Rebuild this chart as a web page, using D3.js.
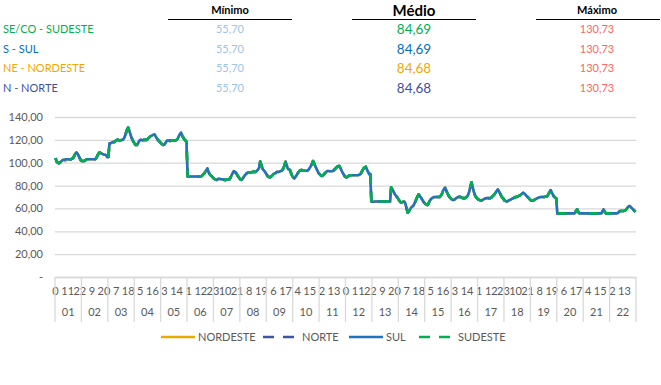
<!DOCTYPE html>
<html>
<head>
<meta charset="utf-8">
<script src="https://cdn.jsdelivr.net/npm/d3@7"></script>
<style>
  body { margin: 0; background: #fff; }
  text { font-family: Lato, "Open Sans", sans-serif; }
</style>
</head>
<body>
<div id="chart"></div>
<script>
// header table
const regions = ["SE/CO - SUDESTE", "S - SUL", "NE - NORDESTE", "N - NORTE"];
const regionColors = ["#00b050", "#0070c0", "#f0a800", "#3f4f9f"];
const minimo = ["55,70", "55,70", "55,70", "55,70"];
const medio = ["84,69", "84,69", "84,68", "84,68"];
const maximo = ["130,73", "130,73", "130,73", "130,73"];

// days (outer category) and hourly values per day (inner category 0..23)
const days = ["01","02","03","04","05","06","07","08","09","10","11","12","13","14","15","16","17","18","19","20","21","22"];
const hourly = [
  [104,101,100,99.5,100,101,102,102.5,102.5,103,103,103,103,103,103,103.5,104,106,108,109,108,106,104,102],
  [101.5,101.5,101.5,102,103,103,103,103,103,103,103,103,103,104,106,108,109,108.5,108,107.5,107,107,106.5,105],
  [105,117,117,117.5,118,118,118.5,119.5,120,120,119.5,119.5,120,120,121,123,126,129,130.73,128,125,122,120,118],
  [116.5,115.5,115.5,117,119,120,120,119.5,120,120,120,120,121,122,123,123.5,124,124.5,124.8,123,121.5,120,119,118],
  [117,116,115.5,116,117.5,119,119.5,119.5,119,119.5,119.5,119.5,119.5,119.5,120,121,123,125,126.3,124,122,120.5,119.5,118.4],
  [88,87.8,88,88,88,88,88,88,88,88,88,88,88,88.5,89.5,90.5,92,93.5,95,92,90,89,88,87],
  [86,85.5,85,85,86,86,85.5,85.5,85.5,85,85,85,85.5,85.5,85.5,87,89,91,92.7,92,91,89.5,88,86.5],
  [85.5,85,86,87.5,89,90,91,91.3,91.5,91.5,91.5,92,92,92,92,93,94,95.5,101,98,95,93.5,92.5,91],
  [89.5,88,87.5,87.2,88,89,90,90.5,91,92,92,92,92.5,92.7,93.5,95,97.5,101,98,95,94,93.6,91,88.5],
  [87,86.3,87.5,89,90.5,92,93,93.6,93.5,93,93,93,93,93,94,95.5,97,99,101.5,99.5,97,95,93,91],
  [90,89,88.4,89,90,91,92,92.7,92.7,92.5,92.5,92.5,92.7,93.5,94.5,95.5,96.5,97,97,95,93,91,89.5,88],
  [87.2,87.5,88,89,89,89,89,89,89,89,89,89,89.5,90,91.5,93.5,95,96,96.5,94,92,90,90,65.9],
  [65.9,65.9,66,66,66,66,66,66,66,66,66,66,66,66,66,66,66,78.5,76.5,75,73,71.5,70.3,69],
  [67.5,66,65,65.5,66,66,64,60,56.3,57.5,59,60.5,61.5,62,64,66,68.5,70.5,72.4,71,69.5,68,66.5,65],
  [64,63.5,63,64.5,66.5,68,69,69.5,70,70,70,70,70,70,71,72.5,75,77,78.2,76,73.5,71.5,70,69],
  [68,67.4,67.5,68,69,69.5,70,70.3,70,69.5,69,69,69,69.5,70.5,72,75,79,82.9,79,75,72,70,69],
  [68,67.5,67,66.8,67.5,68,68.5,68.9,69,69,68.9,69,69.5,70.5,71.5,72.5,74,75.5,76.7,75,73,71,69.5,68.5],
  [67,66.5,65.9,66.5,67,67.5,68,68.5,69,69.5,70,70,70.5,71,71.5,72,73,73.8,73,72,71,70,69,68],
  [67,67,66.8,67.5,68,68.5,69,69.5,69.7,70,70,70,70,70.3,70.3,71,72.5,74.5,76.1,74,72,70.5,69.5,68.9],
  [55.7,55.7,55.7,55.7,55.7,55.7,55.7,55.7,55.7,55.7,55.7,55.7,55.7,55.7,55.7,55.7,56,58,59.2,57,55.7,55.7,55.7,55.7],
  [55.7,55.7,55.7,55.7,55.7,55.7,55.7,55.7,55.7,55.7,55.7,55.7,55.7,55.7,55.7,55.7,55.7,57.5,59,57,55.7,55.7,55.7,55.7],
  [55.7,55.7,55.7,55.7,55.7,55.7,55.7,56,57,57.7,57.7,57.7,57.8,58,58.5,59.5,61,62,62,61,60,59,58,57]
];
// NE / N differ slightly in the first day
const nordesteDay1 = [104,101,100,99.5,100,101,102,102.5,102.5,101.5,103,103,103,103,103,103.5,104,106,108,109,108,106,104,102];

const yTicks = [0, 20, 40, 60, 80, 100, 120, 140];

// legend / series (drawing order)
const seriesNames = ["NORDESTE", "NORTE", "SUL", "SUDESTE"];
const seriesColors = ["#e8ac00", "#3b56a3", "#1f72c4", "#00b050"];
const seriesDash = [null, "9,9", null, "9,9"];

const flatHourly = hourly.flat();
const flatNordeste = nordesteDay1.concat(hourly.slice(1).flat());
const seriesData = [flatNordeste, flatNordeste, flatHourly, flatHourly];

const width = 661, height = 385;
const plot = { left: 55, right: 636, top: 117, bottom: 277 };

const svg = d3.select("#chart").append("svg")
    .attr("width", width)
    .attr("height", height);

svg.append("rect").attr("width", width).attr("height", height).attr("fill", "#fff");

// ---- header table ----
const hdr = svg.append("g");
const cols = [
    { title: "Mínimo", cx: 230, x1: 168, x2: 292, size: 11, vals: minimo, valSize: 11, color: () => "#9dc3e6" },
    { title: "Médio", cx: 414, x1: 352, x2: 476, size: 15, vals: medio, valSize: 13.5, color: (i) => regionColors[i] },
    { title: "Máximo", cx: 597, x1: 536, x2: 660, size: 11, vals: maximo, valSize: 11, color: () => "#ff6666" }
];
const rowY = [33, 52.5, 72, 91.5];

cols.forEach(c => {
    hdr.append("text")
        .attr("x", c.cx).attr("y", c.size > 12 ? 16 : 14)
        .attr("text-anchor", "middle")
        .attr("font-size", c.size)
        .attr("font-weight", "bold")
        .attr("fill", "#000")
        .text(c.title);
    hdr.append("line")
        .attr("x1", c.x1).attr("x2", c.x2)
        .attr("y1", 19.5).attr("y2", 19.5)
        .attr("stroke", "#000").attr("stroke-width", 1);
    c.vals.forEach((v, i) => {
        hdr.append("text")
            .attr("x", c.cx).attr("y", rowY[i] + (c.valSize > 12 ? 1 : 0))
            .attr("text-anchor", "middle")
            .attr("font-size", c.valSize)
            .attr("fill", c.color(i))
            .text(v);
    });
});

regions.forEach((r, i) => {
    hdr.append("text")
        .attr("x", 3).attr("y", rowY[i])
        .attr("font-size", 11)
        .attr("fill", regionColors[i])
        .text(r);
});

// ---- scales ----
const nHours = flatHourly.length;
const x = d3.scaleBand().domain(d3.range(nHours)).range([plot.left, plot.right]).padding(0);
const xDay = d3.scaleBand().domain(days).range([plot.left, plot.right]).padding(0);
const y = d3.scaleLinear().domain([0, 140]).range([plot.bottom, plot.top]);

// gridlines + y axis
const yAxis = svg.append("g")
    .attr("transform", `translate(${plot.left},0)`)
    .call(d3.axisLeft(y)
        .tickValues(yTicks)
        .tickSize(-(plot.right - plot.left))
        .tickPadding(12)
        .tickFormat(d => d === 0 ? "-" : d3.format(".2f")(d).replace(".", ",")));
yAxis.select(".domain").remove();
yAxis.selectAll(".tick line").attr("stroke", "#d9d9d9").attr("stroke-width", 1.3);
yAxis.selectAll(".tick text").attr("fill", "#595959").attr("font-size", 11)
    .attr("font-family", "Lato, sans-serif");

// x axis: inner labels (hour of day, every 11th hour)
const xAxis = svg.append("g")
    .attr("transform", `translate(0,${plot.bottom})`)
    .call(d3.axisBottom(x)
        .tickValues(d3.range(nHours).filter(i => i % 11 === 0))
        .tickSize(0)
        .tickPadding(10)
        .tickFormat(i => i % 24));
xAxis.select(".domain").attr("stroke", "#d9d9d9").attr("stroke-width", 1.3);
xAxis.selectAll(".tick text").attr("fill", "#595959").attr("font-size", 11)
    .attr("font-family", "Lato, sans-serif");

// outer labels (days) and separators
const dayAxis = svg.append("g")
    .attr("transform", `translate(0,${plot.bottom + 21})`)
    .call(d3.axisBottom(xDay).tickSize(0).tickPadding(10));
dayAxis.select(".domain").remove();
dayAxis.selectAll(".tick text").attr("fill", "#595959").attr("font-size", 11)
    .attr("font-family", "Lato, sans-serif");

svg.append("g").selectAll("line")
    .data(days.map(d => xDay(d)).concat([plot.right]))
    .join("line")
    .attr("x1", d => d).attr("x2", d => d)
    .attr("y1", plot.bottom).attr("y2", plot.bottom + 45)
    .attr("stroke", "#d9d9d9").attr("stroke-width", 1.3);

// ---- lines ----
const line = d3.line()
    .x((d, i) => x(i) + x.bandwidth() / 2)
    .y(d => y(d));

seriesData.forEach((data, k) => {
    svg.append("path")
        .datum(data)
        .attr("fill", "none")
        .attr("stroke", seriesColors[k])
        .attr("stroke-width", 2.6)
        .attr("stroke-linejoin", "round")
        .attr("stroke-dasharray", seriesDash[k])
        .attr("d", line);
});

// ---- legend ----
const legendX = [161, 263, 349, 419];
const lg = svg.append("g").attr("transform", "translate(0,337)");
seriesNames.forEach((name, k) => {
    lg.append("line")
        .attr("x1", legendX[k]).attr("x2", legendX[k] + (seriesDash[k] ? 31 : 34))
        .attr("y1", 0).attr("y2", 0)
        .attr("stroke", seriesColors[k])
        .attr("stroke-width", 2.6)
        .attr("stroke-dasharray", seriesDash[k] ? "11,9" : null);
    lg.append("text")
        .attr("x", legendX[k] + (seriesDash[k] ? 39 : 37))
        .attr("y", 4)
        .attr("font-size", 11)
        .attr("fill", "#595959")
        .text(name);
});
</script>
</body>
</html>
